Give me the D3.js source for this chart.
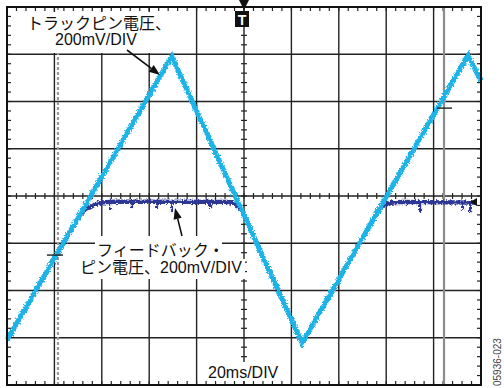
<!DOCTYPE html>
<html>
<head>
<meta charset="utf-8">
<script src="https://cdn.jsdelivr.net/npm/d3@7"></script>
<style>
  html, body { margin: 0; padding: 0; background: #fff; }
  svg { display: block; }
  text { font-family: "Liberation Sans", "Noto Sans CJK JP", Arial, sans-serif; }
</style>
</head>
<body>
<svg id="scope" width="504" height="388"></svg>
<script>
// Track pin voltage (triangle sweep), vertices in ms / mV
const trackTime = [-100, -30.5, 24.5, 94.5, 100];
const trackMv   = [-610, 592, -622, 597, 485];

// Feedback pin voltage: follows the track pin, clamps just below 0 V
const feedbackTime = [-100, -69.2, -66.5, -64.0, -61.5, -58.5, -54, -6.8, -4.6, -2.8, -1.2, 0.4, 24.5, 57.4, 59.6, 61.2, 63.2, 66, 97.5];
const feedbackMv   = [-610, -80, -56, -40, -31, -26, -24, -25, -31, -42, -60, -89, -622, -50, -38, -31, -27, -25, -28];

// Short negative glitches riding on the clamped feedback level
const glitchTime = [-56.5, -47.3, -36.7, -30.4, -14.3, 74.3, 92.4, 95.4];
const glitchMv   = [-59, -51, -55, -68, -51, -68, -63, -72];

// Scope settings: 20 ms/div over 10 divisions, 200 mV/div over 8 divisions
const timeDomain = [-100, 100];
const voltDomain = [-800, 800];
const timePerDiv = 20, voltPerDiv = 200, minorPerDiv = 5;

// Cursors and reference markers
const cursorA = -78.5, cursorB = 84.4;
const cursorALevel = -250, cursorBLevel = 372;
const groundLevel = -25;

const svg = d3.select("#scope");
const x = d3.scaleLinear().domain(timeDomain).range([7, 481]);
const y = d3.scaleLinear().domain(voltDomain).range([385, 7]);

// ragged edge for the sampled traces
const defs = svg.append("defs");
const rough = defs.append("filter").attr("id", "rough")
  .attr("filterUnits", "userSpaceOnUse")
  .attr("x", 0).attr("y", 0).attr("width", 504).attr("height", 388);
rough.append("feTurbulence").attr("type", "fractalNoise").attr("baseFrequency", 0.6)
  .attr("numOctaves", 2).attr("seed", 4).attr("result", "n");
rough.append("feDisplacementMap").attr("in", "SourceGraphic").attr("in2", "n")
  .attr("scale", 5).attr("xChannelSelector", "R").attr("yChannelSelector", "G");

svg.append("rect").attr("width", 504).attr("height", 388).attr("fill", "#fff");

const grid = svg.append("g");
const majorT = d3.range(timeDomain[0], timeDomain[1] + 0.01, timePerDiv);
const majorV = d3.range(voltDomain[0], voltDomain[1] + 0.01, voltPerDiv);
const minorT = d3.range(timeDomain[0], timeDomain[1] + 0.01, timePerDiv / minorPerDiv);
const minorV = d3.range(voltDomain[0], voltDomain[1] + 0.01, voltPerDiv / minorPerDiv);

// major divisions
grid.selectAll(".vx").data(majorT.slice(1, -1)).join("line")
  .attr("x1", d => x(d)).attr("x2", d => x(d))
  .attr("y1", y.range()[1]).attr("y2", y.range()[0])
  .attr("stroke", "#222").attr("stroke-width", 1.4);
grid.selectAll(".hy").data(majorV.slice(1, -1)).join("line")
  .attr("y1", d => y(d)).attr("y2", d => y(d))
  .attr("x1", x.range()[0]).attr("x2", x.range()[1])
  .attr("stroke", "#222").attr("stroke-width", 1.4);

// minor ticks on the frame and on the centre axes
const tk = 4;
const ticks = grid.append("g").attr("stroke", "#222").attr("stroke-width", 1.2);
minorT.forEach(t => {
  const px = x(t);
  ticks.append("line").attr("x1", px).attr("x2", px).attr("y1", y(800)).attr("y2", y(800) + tk);
  ticks.append("line").attr("x1", px).attr("x2", px).attr("y1", y(-800)).attr("y2", y(-800) - tk);
  ticks.append("line").attr("x1", px).attr("x2", px).attr("y1", y(0) - 3).attr("y2", y(0) + 3);
});
minorV.forEach(v => {
  const py = y(v);
  ticks.append("line").attr("y1", py).attr("y2", py).attr("x1", x(-100)).attr("x2", x(-100) + tk);
  ticks.append("line").attr("y1", py).attr("y2", py).attr("x1", x(100)).attr("x2", x(100) - tk);
  ticks.append("line").attr("y1", py).attr("y2", py).attr("x1", x(0) - 3).attr("x2", x(0) + 3);
});

// cursors
svg.append("line").attr("x1", x(cursorA)).attr("x2", x(cursorA))
  .attr("y1", y(800)).attr("y2", y(-800))
  .attr("stroke", "#9a9a9a").attr("stroke-width", 2.2).attr("stroke-dasharray", "3,2");
svg.append("line").attr("x1", x(cursorB)).attr("x2", x(cursorB))
  .attr("y1", y(800)).attr("y2", y(-800))
  .attr("stroke", "#8c8c8c").attr("stroke-width", 2.2);

// white backing boxes for the annotations
const labels = svg.append("g");
labels.append("rect").attr("x", 14).attr("y", 12).attr("width", 158).attr("height", 41).attr("fill", "#fff");
labels.append("rect").attr("x", 95).attr("y", 236).attr("width", 127).attr("height", 23).attr("fill", "#fff");
labels.append("rect").attr("x", 76).attr("y", 259).attr("width", 169).attr("height", 20).attr("fill", "#fff");
labels.append("rect").attr("x", 205).attr("y", 362).attr("width", 80).attr("height", 19).attr("fill", "#fff");

// traces
const line = d3.line().x(d => x(d[0])).y(d => y(d[1]));
const feedback = d3.zip(feedbackTime, feedbackMv);
const track = d3.zip(trackTime, trackMv);

const fb = svg.append("g").attr("filter", "url(#rough)");
fb.append("path").datum(feedback).attr("d", line)
  .attr("fill", "none").attr("stroke", "#2d3894").attr("stroke-width", 4.2)
  .attr("stroke-linejoin", "round");
fb.selectAll(".glitch").data(d3.zip(glitchTime, glitchMv)).join("line")
  .attr("x1", d => x(d[0])).attr("x2", d => x(d[0]))
  .attr("y1", y(groundLevel)).attr("y2", d => y(d[1]))
  .attr("stroke", "#2d3894").attr("stroke-width", 2.2);

svg.append("g").attr("filter", "url(#rough)")
  .append("path").datum(track).attr("d", line)
  .attr("fill", "none").attr("stroke", "#1fb4e8").attr("stroke-width", 5)
  .attr("stroke-linejoin", "miter");

// frame
svg.append("rect").attr("x", x(-100)).attr("y", y(800))
  .attr("width", x(100) - x(-100)).attr("height", y(-800) - y(800))
  .attr("fill", "none").attr("stroke", "#111").attr("stroke-width", 2);

// cursor level markers
svg.append("line").attr("x1", x(cursorA) - 11).attr("x2", x(cursorA) + 5)
  .attr("y1", y(cursorALevel)).attr("y2", y(cursorALevel)).attr("stroke", "#222").attr("stroke-width", 1.4);
svg.append("line").attr("x1", x(cursorB) - 7).attr("x2", x(cursorB) + 8)
  .attr("y1", y(cursorBLevel)).attr("y2", y(cursorBLevel)).attr("stroke", "#222").attr("stroke-width", 1.4);

// trigger position marker
const tx = x(0);
svg.append("path").attr("d", `M${tx - 5},0 L${tx + 5},0 L${tx},10 Z`).attr("fill", "#111");
svg.append("rect").attr("x", tx - 9).attr("y", 11).attr("width", 14).attr("height", 16).attr("fill", "#111");
svg.append("text").attr("x", tx - 2).attr("y", 25).attr("text-anchor", "middle")
  .attr("fill", "#fff").attr("font-size", 14).attr("font-weight", "bold").text("T");

// channel ground marker at the right edge
const gy = y(groundLevel);
svg.append("path").attr("d", `M470,${gy} L477,${gy - 4} L477,${gy + 4} Z`).attr("fill", "#111");

// annotation text
const t1 = labels.append("text").attr("font-size", 16).attr("fill", "#111");
t1.append("tspan").attr("x", 27).attr("y", 29).text("トラックピン電圧、");
t1.append("tspan").attr("x", 55).attr("y", 45).text("200mV/DIV");

const t2 = labels.append("text").attr("font-size", 16).attr("fill", "#111");
t2.append("tspan").attr("x", 97).attr("y", 256).text("フィードバック・");
t2.append("tspan").attr("x", 80).attr("y", 273).text("ピン電圧、200mV/DIV");

labels.append("text").attr("x", 208).attr("y", 378).attr("font-size", 16).attr("fill", "#111").text("20ms/DIV");

svg.append("text").attr("transform", "translate(501,386) rotate(-90)")
  .attr("font-size", 10).attr("fill", "#444").text("05936-023");

// arrows
function arrow(x1, y1, x2, y2) {
  const a = Math.atan2(y2 - y1, x2 - x1), L = 11, W = 4.2;
  const bx = x2 - L * Math.cos(a), by = y2 - L * Math.sin(a);
  svg.append("line").attr("x1", x1).attr("y1", y1).attr("x2", bx).attr("y2", by)
    .attr("stroke", "#111").attr("stroke-width", 1.6);
  svg.append("path").attr("fill", "#111").attr("d",
    `M${x2},${y2} L${bx + W * Math.sin(a)},${by - W * Math.cos(a)} L${bx - W * Math.sin(a)},${by + W * Math.cos(a)} Z`);
}
arrow(127, 50, 160, 75);
arrow(182, 236, 175, 208);
</script>
</body>
</html>
